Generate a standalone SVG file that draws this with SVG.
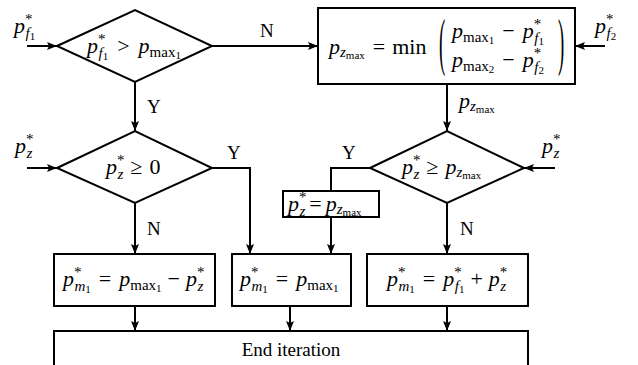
<svg xmlns="http://www.w3.org/2000/svg" width="638" height="365" viewBox="0 0 638 365">
<defs>
<marker id="ah" viewBox="0 0 10 10" refX="10" refY="5" markerWidth="10" markerHeight="10" markerUnits="userSpaceOnUse" orient="auto">
<path d="M0,1 L10,5 L0,9 L2,5 z" fill="#000"/>
</marker>
<style>
text{font-family:"Liberation Serif","Times New Roman",serif;font-size:22px;fill:#000}
.t{font-size:19px}
.i{font-style:italic}
.s{font-size:15px}
.ss{font-size:11px}
.shape{fill:#fff;stroke:#000;stroke-width:2}
.c{fill:none;stroke:#000;stroke-width:2}
.a{marker-end:url(#ah)}
</style>
</defs>
<rect width="638" height="365" fill="#fff"/>

<g id="connectors">
<line class="c a" x1="27" y1="46" x2="57" y2="46"/>
<line class="c a" x1="212" y1="46" x2="318" y2="46"/>
<line class="c a" x1="605" y1="46" x2="575" y2="46"/>
<line class="c a" x1="135" y1="82" x2="135" y2="131"/>
<line class="c a" x1="447" y1="84" x2="447" y2="131"/>
<line class="c a" x1="27" y1="168" x2="57" y2="168"/>
<line class="c a" x1="555" y1="168" x2="524" y2="168"/>
<polyline class="c a" points="212,168 250,168 250,254"/>
<line class="c a" x1="135" y1="203" x2="135" y2="254"/>
<polyline class="c" points="370,168 331,168 331,191"/>
<line class="c a" x1="331" y1="217" x2="331" y2="254"/>
<line class="c a" x1="447" y1="203" x2="447" y2="254"/>
<line class="c a" x1="135" y1="306" x2="135" y2="331"/>
<line class="c a" x1="290" y1="306" x2="290" y2="331"/>
<line class="c a" x1="447" y1="306" x2="447" y2="331"/>
</g>

<g id="labels">
<text x="14" y="33"><tspan class="i">p</tspan><tspan class="s" dy="-9">*</tspan><tspan class="s i" dx="-7" dy="14">f</tspan><tspan class="ss" dy="2">1</tspan></text>
<text x="595" y="33"><tspan class="i">p</tspan><tspan class="s" dy="-9">*</tspan><tspan class="s i" dx="-7" dy="14">f</tspan><tspan class="ss" dy="2">2</tspan></text>
<text class="t" x="260" y="37">N</text>
<text class="t" x="147" y="113">Y</text>
<text x="459" y="108"><tspan class="i">p</tspan><tspan class="s i" dy="3">z</tspan><tspan class="ss" dy="2">max</tspan></text>
<text x="15" y="153"><tspan class="i">p</tspan><tspan class="s" dy="-9">*</tspan><tspan class="s i" dx="-7" dy="14">z</tspan></text>
<text x="542" y="153"><tspan class="i">p</tspan><tspan class="s" dy="-9">*</tspan><tspan class="s i" dx="-7" dy="14">z</tspan></text>
<text class="t" x="227" y="159">Y</text>
<text class="t" x="342" y="159">Y</text>
<text class="t" x="147" y="235">N</text>
<text class="t" x="460" y="235">N</text>
</g>

<g id="n-dec1">
<polygon class="shape" points="57,46 135,10 212,46 135,82"/>
<text x="87" y="53"><tspan class="i">p</tspan><tspan class="s" dy="-9">*</tspan><tspan class="s i" dx="-7" dy="14">f</tspan><tspan class="ss" dy="2">1</tspan><tspan dx="9" dy="-7">&gt;</tspan><tspan class="i" dx="9">p</tspan><tspan class="s" dy="4">max</tspan><tspan class="ss" dy="2">1</tspan></text>
</g>

<g id="n-pzmax">
<rect class="shape" x="318" y="8" width="257" height="76"/>
<text x="329" y="54"><tspan class="i">p</tspan><tspan class="s i" dy="3">z</tspan><tspan class="ss" dy="2">max</tspan><tspan dx="8" dy="-5">=</tspan><tspan dx="7">min</tspan></text>
<text x="439" y="63" transform="translate(439,63) scale(0.85,2.9) translate(-439,-63)">(</text>
<text x="558" y="63" transform="translate(558,63) scale(0.85,2.9) translate(-558,-63)">)</text>
<text x="452" y="38"><tspan class="i">p</tspan><tspan class="s" dy="4">max</tspan><tspan class="ss" dy="2">1</tspan><tspan dx="8" dy="-6">−</tspan><tspan class="i" dx="8">p</tspan><tspan class="s" dy="-9">*</tspan><tspan class="s i" dx="-7" dy="14">f</tspan><tspan class="ss" dy="2">1</tspan></text>
<text x="452" y="67"><tspan class="i">p</tspan><tspan class="s" dy="4">max</tspan><tspan class="ss" dy="2">2</tspan><tspan dx="8" dy="-6">−</tspan><tspan class="i" dx="8">p</tspan><tspan class="s" dy="-9">*</tspan><tspan class="s i" dx="-7" dy="14">f</tspan><tspan class="ss" dy="2">2</tspan></text>
</g>

<g id="n-dec2">
<polygon class="shape" points="57,168 135,131 212,168 135,203"/>
<text x="106" y="174"><tspan class="i">p</tspan><tspan class="s" dy="-9">*</tspan><tspan class="s i" dx="-7" dy="14">z</tspan><tspan dx="7" dy="-5">≥</tspan><tspan dx="7">0</tspan></text>
</g>

<g id="n-dec3">
<polygon class="shape" points="370,168 447,131 524,168 447,203"/>
<text x="402" y="174"><tspan class="i">p</tspan><tspan class="s" dy="-9">*</tspan><tspan class="s i" dx="-7" dy="14">z</tspan><tspan dx="7" dy="-5">≥</tspan><tspan class="i" dx="7">p</tspan><tspan class="s i" dy="3">z</tspan><tspan class="ss" dy="2">max</tspan></text>
</g>

<g id="n-set">
<rect class="shape" x="283" y="191" width="96" height="26"/>
<text x="288" y="211"><tspan class="i">p</tspan><tspan class="s" dy="-9">*</tspan><tspan class="s i" dx="-7" dy="14">z</tspan><tspan dx="4" dy="-5">=</tspan><tspan class="i" dx="4">p</tspan><tspan class="s i" dy="3">z</tspan><tspan class="ss" dy="2">max</tspan></text>
</g>

<g id="n-m1a">
<rect class="shape" x="54" y="254" width="161" height="52"/>
<text x="63" y="286"><tspan class="i">p</tspan><tspan class="s" dy="-9">*</tspan><tspan class="s i" dx="-7" dy="14">m</tspan><tspan class="ss" dy="2">1</tspan><tspan dx="8" dy="-7">=</tspan><tspan class="i" dx="8">p</tspan><tspan class="s" dy="4">max</tspan><tspan class="ss" dy="2">1</tspan><tspan dx="6" dy="-6">−</tspan><tspan class="i" dx="6">p</tspan><tspan class="s" dy="-9">*</tspan><tspan class="s i" dx="-7" dy="14">z</tspan></text>
</g>

<g id="n-m1b">
<rect class="shape" x="232" y="254" width="119" height="52"/>
<text x="240" y="286"><tspan class="i">p</tspan><tspan class="s" dy="-9">*</tspan><tspan class="s i" dx="-7" dy="14">m</tspan><tspan class="ss" dy="2">1</tspan><tspan dx="8" dy="-7">=</tspan><tspan class="i" dx="8">p</tspan><tspan class="s" dy="4">max</tspan><tspan class="ss" dy="2">1</tspan></text>
</g>

<g id="n-m1c">
<rect class="shape" x="367" y="254" width="161" height="52"/>
<text x="387" y="286"><tspan class="i">p</tspan><tspan class="s" dy="-9">*</tspan><tspan class="s i" dx="-7" dy="14">m</tspan><tspan class="ss" dy="2">1</tspan><tspan dx="8" dy="-7">=</tspan><tspan class="i" dx="8">p</tspan><tspan class="s" dy="-9">*</tspan><tspan class="s i" dx="-7" dy="14">f</tspan><tspan class="ss" dy="2">1</tspan><tspan dx="6" dy="-7">+</tspan><tspan class="i" dx="6">p</tspan><tspan class="s" dy="-9">*</tspan><tspan class="s i" dx="-7" dy="14">z</tspan></text>
</g>

<g id="n-end">
<rect class="shape" x="54" y="331" width="474" height="50"/>
<text class="t" x="291" y="356" text-anchor="middle">End iteration</text>
</g>
</svg>
